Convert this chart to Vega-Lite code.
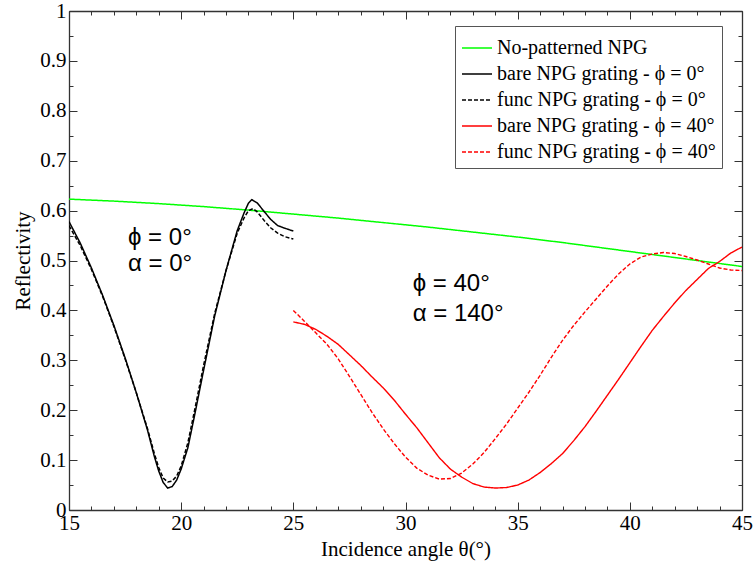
{
  "$schema": "https://vega.github.io/schema/vega-lite/v6.json",
  "width": 673,
  "height": 499,
  "autosize": {"type": "none"},
  "padding": {"left": 69, "top": 11, "right": 11, "bottom": 52},
  "background": "white",
  "config": {
    "view": {"stroke": null},
    "axis": {
      "labelFont": "Liberation Serif", "labelFontSize": 21, "labelColor": "#000",
      "titleFont": "Liberation Serif", "titleFontSize": 21, "titleFontWeight": "normal", "titleColor": "#000",
      "domainColor": "#333", "domainWidth": 1.3, "tickColor": "#333", "tickWidth": 1,
      "grid": false, "labelFlush": false, "labelOverlap": false
    }
  },
  "datasets": {
    "green": [
      {"theta": 15, "R": 0.623, "series": "No-patterned NPG"},
      {"theta": 17, "R": 0.619, "series": "No-patterned NPG"},
      {"theta": 19, "R": 0.614, "series": "No-patterned NPG"},
      {"theta": 21, "R": 0.608, "series": "No-patterned NPG"},
      {"theta": 23, "R": 0.601, "series": "No-patterned NPG"},
      {"theta": 25, "R": 0.593, "series": "No-patterned NPG"},
      {"theta": 27, "R": 0.585, "series": "No-patterned NPG"},
      {"theta": 29, "R": 0.576, "series": "No-patterned NPG"},
      {"theta": 31, "R": 0.567, "series": "No-patterned NPG"},
      {"theta": 33, "R": 0.557, "series": "No-patterned NPG"},
      {"theta": 35, "R": 0.547, "series": "No-patterned NPG"},
      {"theta": 37, "R": 0.536, "series": "No-patterned NPG"},
      {"theta": 39, "R": 0.524, "series": "No-patterned NPG"},
      {"theta": 41, "R": 0.512, "series": "No-patterned NPG"},
      {"theta": 43, "R": 0.500, "series": "No-patterned NPG"},
      {"theta": 45, "R": 0.488, "series": "No-patterned NPG"}
    ],
    "black": [
      {"theta": 15.0, "R": 0.578, "series": "bare NPG grating - ϕ = 0°"},
      {"theta": 15.5, "R": 0.535, "series": "bare NPG grating - ϕ = 0°"},
      {"theta": 16.0, "R": 0.485, "series": "bare NPG grating - ϕ = 0°"},
      {"theta": 16.5, "R": 0.430, "series": "bare NPG grating - ϕ = 0°"},
      {"theta": 17.0, "R": 0.370, "series": "bare NPG grating - ϕ = 0°"},
      {"theta": 17.5, "R": 0.305, "series": "bare NPG grating - ϕ = 0°"},
      {"theta": 18.0, "R": 0.235, "series": "bare NPG grating - ϕ = 0°"},
      {"theta": 18.5, "R": 0.160, "series": "bare NPG grating - ϕ = 0°"},
      {"theta": 18.8, "R": 0.108, "series": "bare NPG grating - ϕ = 0°"},
      {"theta": 19.0, "R": 0.078, "series": "bare NPG grating - ϕ = 0°"},
      {"theta": 19.2, "R": 0.055, "series": "bare NPG grating - ϕ = 0°"},
      {"theta": 19.4, "R": 0.044, "series": "bare NPG grating - ϕ = 0°"},
      {"theta": 19.6, "R": 0.047, "series": "bare NPG grating - ϕ = 0°"},
      {"theta": 19.8, "R": 0.060, "series": "bare NPG grating - ϕ = 0°"},
      {"theta": 20.0, "R": 0.082, "series": "bare NPG grating - ϕ = 0°"},
      {"theta": 20.3, "R": 0.125, "series": "bare NPG grating - ϕ = 0°"},
      {"theta": 20.6, "R": 0.190, "series": "bare NPG grating - ϕ = 0°"},
      {"theta": 21.0, "R": 0.280, "series": "bare NPG grating - ϕ = 0°"},
      {"theta": 21.5, "R": 0.390, "series": "bare NPG grating - ϕ = 0°"},
      {"theta": 22.0, "R": 0.480, "series": "bare NPG grating - ϕ = 0°"},
      {"theta": 22.5, "R": 0.560, "series": "bare NPG grating - ϕ = 0°"},
      {"theta": 22.8, "R": 0.595, "series": "bare NPG grating - ϕ = 0°"},
      {"theta": 23.0, "R": 0.615, "series": "bare NPG grating - ϕ = 0°"},
      {"theta": 23.15, "R": 0.622, "series": "bare NPG grating - ϕ = 0°"},
      {"theta": 23.4, "R": 0.615, "series": "bare NPG grating - ϕ = 0°"},
      {"theta": 23.7, "R": 0.598, "series": "bare NPG grating - ϕ = 0°"},
      {"theta": 24.0, "R": 0.582, "series": "bare NPG grating - ϕ = 0°"},
      {"theta": 24.3, "R": 0.570, "series": "bare NPG grating - ϕ = 0°"},
      {"theta": 24.6, "R": 0.565, "series": "bare NPG grating - ϕ = 0°"},
      {"theta": 25.0, "R": 0.559, "series": "bare NPG grating - ϕ = 0°"},
      {"theta": 15.0, "R": 0.570, "series": "func NPG grating - ϕ = 0°"},
      {"theta": 15.5, "R": 0.530, "series": "func NPG grating - ϕ = 0°"},
      {"theta": 16.0, "R": 0.482, "series": "func NPG grating - ϕ = 0°"},
      {"theta": 16.5, "R": 0.428, "series": "func NPG grating - ϕ = 0°"},
      {"theta": 17.0, "R": 0.368, "series": "func NPG grating - ϕ = 0°"},
      {"theta": 17.5, "R": 0.303, "series": "func NPG grating - ϕ = 0°"},
      {"theta": 18.0, "R": 0.235, "series": "func NPG grating - ϕ = 0°"},
      {"theta": 18.5, "R": 0.163, "series": "func NPG grating - ϕ = 0°"},
      {"theta": 18.8, "R": 0.114, "series": "func NPG grating - ϕ = 0°"},
      {"theta": 19.0, "R": 0.085, "series": "func NPG grating - ϕ = 0°"},
      {"theta": 19.2, "R": 0.064, "series": "func NPG grating - ϕ = 0°"},
      {"theta": 19.4, "R": 0.056, "series": "func NPG grating - ϕ = 0°"},
      {"theta": 19.6, "R": 0.058, "series": "func NPG grating - ϕ = 0°"},
      {"theta": 19.8, "R": 0.068, "series": "func NPG grating - ϕ = 0°"},
      {"theta": 20.0, "R": 0.088, "series": "func NPG grating - ϕ = 0°"},
      {"theta": 20.3, "R": 0.135, "series": "func NPG grating - ϕ = 0°"},
      {"theta": 20.6, "R": 0.200, "series": "func NPG grating - ϕ = 0°"},
      {"theta": 21.0, "R": 0.290, "series": "func NPG grating - ϕ = 0°"},
      {"theta": 21.5, "R": 0.395, "series": "func NPG grating - ϕ = 0°"},
      {"theta": 22.0, "R": 0.480, "series": "func NPG grating - ϕ = 0°"},
      {"theta": 22.5, "R": 0.555, "series": "func NPG grating - ϕ = 0°"},
      {"theta": 22.8, "R": 0.585, "series": "func NPG grating - ϕ = 0°"},
      {"theta": 23.0, "R": 0.600, "series": "func NPG grating - ϕ = 0°"},
      {"theta": 23.2, "R": 0.604, "series": "func NPG grating - ϕ = 0°"},
      {"theta": 23.4, "R": 0.597, "series": "func NPG grating - ϕ = 0°"},
      {"theta": 23.7, "R": 0.580, "series": "func NPG grating - ϕ = 0°"},
      {"theta": 24.0, "R": 0.565, "series": "func NPG grating - ϕ = 0°"},
      {"theta": 24.3, "R": 0.555, "series": "func NPG grating - ϕ = 0°"},
      {"theta": 24.6, "R": 0.548, "series": "func NPG grating - ϕ = 0°"},
      {"theta": 25.0, "R": 0.543, "series": "func NPG grating - ϕ = 0°"}
    ],
    "red": [
      {"theta": 25.0, "R": 0.377, "series": "bare NPG grating - ϕ = 40°"},
      {"theta": 25.5, "R": 0.372, "series": "bare NPG grating - ϕ = 40°"},
      {"theta": 26.0, "R": 0.362, "series": "bare NPG grating - ϕ = 40°"},
      {"theta": 26.5, "R": 0.348, "series": "bare NPG grating - ϕ = 40°"},
      {"theta": 27.0, "R": 0.332, "series": "bare NPG grating - ϕ = 40°"},
      {"theta": 27.5, "R": 0.311, "series": "bare NPG grating - ϕ = 40°"},
      {"theta": 28.0, "R": 0.290, "series": "bare NPG grating - ϕ = 40°"},
      {"theta": 28.5, "R": 0.267, "series": "bare NPG grating - ϕ = 40°"},
      {"theta": 29.0, "R": 0.245, "series": "bare NPG grating - ϕ = 40°"},
      {"theta": 29.5, "R": 0.220, "series": "bare NPG grating - ϕ = 40°"},
      {"theta": 30.0, "R": 0.192, "series": "bare NPG grating - ϕ = 40°"},
      {"theta": 30.5, "R": 0.165, "series": "bare NPG grating - ϕ = 40°"},
      {"theta": 31.0, "R": 0.135, "series": "bare NPG grating - ϕ = 40°"},
      {"theta": 31.5, "R": 0.105, "series": "bare NPG grating - ϕ = 40°"},
      {"theta": 32.0, "R": 0.082, "series": "bare NPG grating - ϕ = 40°"},
      {"theta": 32.5, "R": 0.066, "series": "bare NPG grating - ϕ = 40°"},
      {"theta": 33.0, "R": 0.053, "series": "bare NPG grating - ϕ = 40°"},
      {"theta": 33.5, "R": 0.046, "series": "bare NPG grating - ϕ = 40°"},
      {"theta": 34.0, "R": 0.044, "series": "bare NPG grating - ϕ = 40°"},
      {"theta": 34.5, "R": 0.045, "series": "bare NPG grating - ϕ = 40°"},
      {"theta": 35.0, "R": 0.050, "series": "bare NPG grating - ϕ = 40°"},
      {"theta": 35.5, "R": 0.060, "series": "bare NPG grating - ϕ = 40°"},
      {"theta": 36.0, "R": 0.075, "series": "bare NPG grating - ϕ = 40°"},
      {"theta": 36.5, "R": 0.093, "series": "bare NPG grating - ϕ = 40°"},
      {"theta": 37.0, "R": 0.113, "series": "bare NPG grating - ϕ = 40°"},
      {"theta": 37.5, "R": 0.139, "series": "bare NPG grating - ϕ = 40°"},
      {"theta": 38.0, "R": 0.167, "series": "bare NPG grating - ϕ = 40°"},
      {"theta": 38.5, "R": 0.198, "series": "bare NPG grating - ϕ = 40°"},
      {"theta": 39.0, "R": 0.230, "series": "bare NPG grating - ϕ = 40°"},
      {"theta": 39.5, "R": 0.262, "series": "bare NPG grating - ϕ = 40°"},
      {"theta": 40.0, "R": 0.295, "series": "bare NPG grating - ϕ = 40°"},
      {"theta": 40.5, "R": 0.328, "series": "bare NPG grating - ϕ = 40°"},
      {"theta": 41.0, "R": 0.360, "series": "bare NPG grating - ϕ = 40°"},
      {"theta": 41.5, "R": 0.388, "series": "bare NPG grating - ϕ = 40°"},
      {"theta": 42.0, "R": 0.415, "series": "bare NPG grating - ϕ = 40°"},
      {"theta": 42.5, "R": 0.440, "series": "bare NPG grating - ϕ = 40°"},
      {"theta": 43.0, "R": 0.462, "series": "bare NPG grating - ϕ = 40°"},
      {"theta": 43.5, "R": 0.484, "series": "bare NPG grating - ϕ = 40°"},
      {"theta": 44.0, "R": 0.498, "series": "bare NPG grating - ϕ = 40°"},
      {"theta": 44.5, "R": 0.515, "series": "bare NPG grating - ϕ = 40°"},
      {"theta": 45.0, "R": 0.527, "series": "bare NPG grating - ϕ = 40°"},
      {"theta": 25.0, "R": 0.400, "series": "func NPG grating - ϕ = 40°"},
      {"theta": 25.5, "R": 0.378, "series": "func NPG grating - ϕ = 40°"},
      {"theta": 26.0, "R": 0.355, "series": "func NPG grating - ϕ = 40°"},
      {"theta": 26.5, "R": 0.332, "series": "func NPG grating - ϕ = 40°"},
      {"theta": 27.0, "R": 0.303, "series": "func NPG grating - ϕ = 40°"},
      {"theta": 27.5, "R": 0.268, "series": "func NPG grating - ϕ = 40°"},
      {"theta": 28.0, "R": 0.232, "series": "func NPG grating - ϕ = 40°"},
      {"theta": 28.5, "R": 0.196, "series": "func NPG grating - ϕ = 40°"},
      {"theta": 29.0, "R": 0.163, "series": "func NPG grating - ϕ = 40°"},
      {"theta": 29.5, "R": 0.133, "series": "func NPG grating - ϕ = 40°"},
      {"theta": 30.0, "R": 0.106, "series": "func NPG grating - ϕ = 40°"},
      {"theta": 30.5, "R": 0.084, "series": "func NPG grating - ϕ = 40°"},
      {"theta": 31.0, "R": 0.070, "series": "func NPG grating - ϕ = 40°"},
      {"theta": 31.5, "R": 0.062, "series": "func NPG grating - ϕ = 40°"},
      {"theta": 32.0, "R": 0.063, "series": "func NPG grating - ϕ = 40°"},
      {"theta": 32.5, "R": 0.074, "series": "func NPG grating - ϕ = 40°"},
      {"theta": 33.0, "R": 0.092, "series": "func NPG grating - ϕ = 40°"},
      {"theta": 33.5, "R": 0.115, "series": "func NPG grating - ϕ = 40°"},
      {"theta": 34.0, "R": 0.143, "series": "func NPG grating - ϕ = 40°"},
      {"theta": 34.5, "R": 0.172, "series": "func NPG grating - ϕ = 40°"},
      {"theta": 35.0, "R": 0.204, "series": "func NPG grating - ϕ = 40°"},
      {"theta": 35.5, "R": 0.236, "series": "func NPG grating - ϕ = 40°"},
      {"theta": 36.0, "R": 0.270, "series": "func NPG grating - ϕ = 40°"},
      {"theta": 36.5, "R": 0.306, "series": "func NPG grating - ϕ = 40°"},
      {"theta": 37.0, "R": 0.340, "series": "func NPG grating - ϕ = 40°"},
      {"theta": 37.5, "R": 0.370, "series": "func NPG grating - ϕ = 40°"},
      {"theta": 38.0, "R": 0.397, "series": "func NPG grating - ϕ = 40°"},
      {"theta": 38.5, "R": 0.423, "series": "func NPG grating - ϕ = 40°"},
      {"theta": 39.0, "R": 0.449, "series": "func NPG grating - ϕ = 40°"},
      {"theta": 39.5, "R": 0.473, "series": "func NPG grating - ϕ = 40°"},
      {"theta": 40.0, "R": 0.493, "series": "func NPG grating - ϕ = 40°"},
      {"theta": 40.5, "R": 0.507, "series": "func NPG grating - ϕ = 40°"},
      {"theta": 41.0, "R": 0.513, "series": "func NPG grating - ϕ = 40°"},
      {"theta": 41.5, "R": 0.516, "series": "func NPG grating - ϕ = 40°"},
      {"theta": 42.0, "R": 0.514, "series": "func NPG grating - ϕ = 40°"},
      {"theta": 42.5, "R": 0.508, "series": "func NPG grating - ϕ = 40°"},
      {"theta": 43.0, "R": 0.501, "series": "func NPG grating - ϕ = 40°"},
      {"theta": 43.5, "R": 0.493, "series": "func NPG grating - ϕ = 40°"},
      {"theta": 44.0, "R": 0.485, "series": "func NPG grating - ϕ = 40°"},
      {"theta": 44.5, "R": 0.481, "series": "func NPG grating - ϕ = 40°"},
      {"theta": 45.0, "R": 0.480, "series": "func NPG grating - ϕ = 40°"}
    ],
    "notes": [
      {"theta": 17.63, "R": 0.545, "label": "ϕ = 0°"},
      {"theta": 17.63, "R": 0.492, "label": "α = 0°"},
      {"theta": 30.32, "R": 0.452, "label": "ϕ = 40°"},
      {"theta": 30.32, "R": 0.393, "label": "α = 140°"}
    ]
  },
  "resolve": {"axis": {"x": "independent", "y": "independent"}},
  "layer": [
    {
      "data": {"name": "green"},
      "mark": {"type": "line", "clip": true},
      "encoding": {
        "x": {"field": "theta", "type": "quantitative",
              "scale": {"domain": [15, 45], "nice": false, "zero": false},
              "axis": {"orient": "bottom", "values": [15, 20, 25, 30, 35, 40, 45], "tickSize": -8, "labelPadding": 10, "title": "Incidence angle θ(°)", "titlePadding": 5}},
        "y": {"field": "R", "type": "quantitative",
              "scale": {"domain": [0, 1], "nice": false},
              "axis": {"orient": "left", "values": [0, 0.1, 0.2, 0.3, 0.4, 0.5, 0.6, 0.7, 0.8, 0.9, 1], "tickSize": -8, "labelPadding": 11, "title": "Reflectivity", "titlePadding": 6, "labelExpr": "datum.value == 0 ? '0' : datum.value == 1 ? '1' : format(datum.value, '.1f')"}},
        "color": {"field": "series", "type": "nominal",
                  "scale": {"domain": ["No-patterned NPG", "bare NPG grating - ϕ = 0°", "func NPG grating - ϕ = 0°", "bare NPG grating - ϕ = 40°", "func NPG grating - ϕ = 40°"],
                            "range": ["#00ff00", "#000000", "#000000", "#ff0000", "#ff0000"]},
                  "legend": {"orient": "none", "legendX": 386, "legendY": 15, "title": null, "symbolType": "stroke", "symbolSize": 900, "symbolStrokeWidth": 1.5, "labelFont": "Liberation Serif", "labelFontSize": 20, "labelColor": "#000", "labelLimit": 400, "strokeColor": "#555", "fillColor": "white", "padding": 6, "rowPadding": -5, "labelOffset": 4}},
        "strokeDash": {"field": "series", "type": "nominal",
                  "scale": {"domain": ["No-patterned NPG", "bare NPG grating - ϕ = 0°", "func NPG grating - ϕ = 0°", "bare NPG grating - ϕ = 40°", "func NPG grating - ϕ = 40°"],
                            "range": [[1, 0], [1, 0], [4, 2], [1, 0], [4, 2]]}},
        "strokeWidth": {"value": 1.5}
      }
    },
    {
      "data": {"name": "black"},
      "mark": {"type": "line", "clip": true},
      "encoding": {
        "x": {"field": "theta", "type": "quantitative",
              "axis": {"orient": "bottom", "values": [15,16,17,18,19,20,21,22,23,24,25,26,27,28,29,30,31,32,33,34,35,36,37,38,39,40,41,42,43,44,45], "tickSize": -4, "labels": false, "domain": false, "title": null}},
        "y": {"field": "R", "type": "quantitative",
              "axis": {"orient": "left", "values": [0.05, 0.15, 0.25, 0.35, 0.45, 0.55, 0.65, 0.75, 0.85, 0.95], "tickSize": -4, "labels": false, "domain": false, "title": null}},
        "color": {"field": "series", "type": "nominal"},
        "strokeDash": {"field": "series", "type": "nominal"},
        "strokeWidth": {"value": 1.5}
      }
    },
    {
      "data": {"name": "red"},
      "mark": {"type": "line", "clip": true},
      "encoding": {
        "x": {"field": "theta", "type": "quantitative",
              "axis": {"orient": "top", "values": [15, 20, 25, 30, 35, 40, 45], "tickSize": -8, "labels": false, "title": null}},
        "y": {"field": "R", "type": "quantitative",
              "axis": {"orient": "right", "values": [0, 0.1, 0.2, 0.3, 0.4, 0.5, 0.6, 0.7, 0.8, 0.9, 1], "tickSize": -8, "labels": false, "title": null}},
        "color": {"field": "series", "type": "nominal"},
        "strokeDash": {"field": "series", "type": "nominal"},
        "strokeWidth": {"value": 1.4}
      }
    },
    {
      "data": {"name": "notes"},
      "mark": {"type": "text", "align": "left", "baseline": "middle", "font": "Liberation Sans", "fontSize": 24, "color": "#000"},
      "encoding": {
        "x": {"field": "theta", "type": "quantitative",
              "axis": {"orient": "top", "values": [15,16,17,18,19,20,21,22,23,24,25,26,27,28,29,30,31,32,33,34,35,36,37,38,39,40,41,42,43,44,45], "tickSize": -4, "labels": false, "domain": false, "title": null}},
        "y": {"field": "R", "type": "quantitative",
              "axis": {"orient": "right", "values": [0.05, 0.15, 0.25, 0.35, 0.45, 0.55, 0.65, 0.75, 0.85, 0.95], "tickSize": -4, "labels": false, "domain": false, "title": null}},
        "text": {"field": "label", "type": "nominal"}
      }
    }
  ]
}
